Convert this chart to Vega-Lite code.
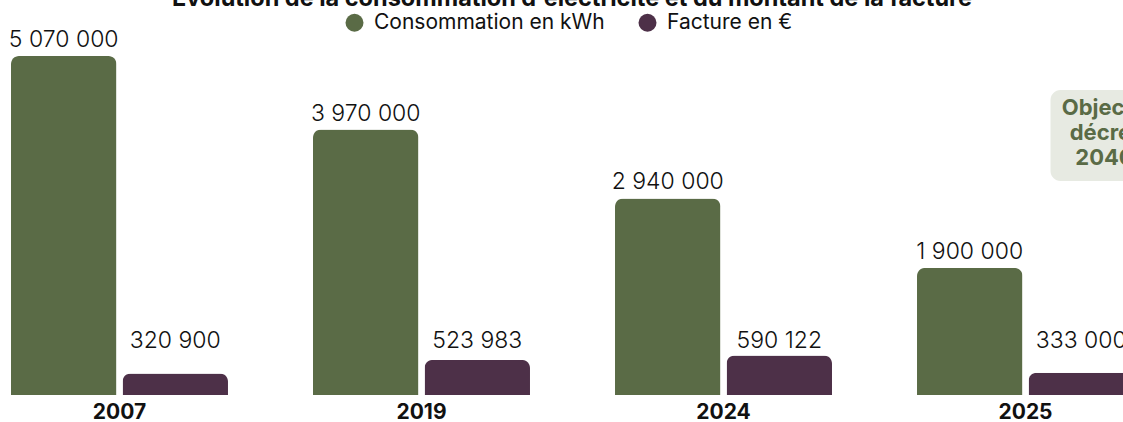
{
  "$schema": "https://vega.github.io/schema/vega-lite/v6.json",
  "autosize": {"type": "none"},
  "width": 1112,
  "height": 339,
  "padding": {"left": 11, "top": 56, "right": 0, "bottom": 27},
  "background": "white",
  "config": {
    "font": "Inter",
    "view": {"stroke": null},
    "locale": {"number": {"decimal": ",", "thousands": " ", "grouping": [3], "currency": ["", " €"]}}
  },
  "title": {
    "text": "Évolution de la consommation d'électricité et du montant de la facture",
    "fontSize": 23.5,
    "fontWeight": "bold",
    "font": "Inter",
    "color": "#111111",
    "anchor": "middle",
    "frame": "group",
    "baseline": "alphabetic",
    "offset": 0,
    "dy": 17,
    "dx": 5
  },
  "data": {
    "values": [
      {"year": "2007", "serie": "Consommation en kWh", "value": 5070000},
      {"year": "2007", "serie": "Facture en €", "value": 320900},
      {"year": "2019", "serie": "Consommation en kWh", "value": 3970000},
      {"year": "2019", "serie": "Facture en €", "value": 523983},
      {"year": "2024", "serie": "Consommation en kWh", "value": 2940000},
      {"year": "2024", "serie": "Facture en €", "value": 590122},
      {"year": "2025", "serie": "Consommation en kWh", "value": 1900000},
      {"year": "2025", "serie": "Facture en €", "value": 333000}
    ]
  },
  "layer": [
    {
      "mark": {"type": "bar", "cornerRadiusTopLeft": 8, "cornerRadiusTopRight": 8},
      "encoding": {
        "x": {
          "field": "year", "type": "nominal", "title": null,
          "scale": {"paddingInner": 0.2815, "paddingOuter": 0, "range": [0, 1123]},
          "axis": {"domain": false, "ticks": false, "labelFontSize": 21, "labelFontWeight": "bold", "labelColor": "#111111", "labelFont": "Inter", "labelPadding": 6, "labelAngle": 0}
        },
        "xOffset": {"field": "serie", "type": "nominal", "sort": ["Consommation en kWh", "Facture en €"], "scale": {"paddingInner": 0.055, "paddingOuter": 0}},
        "y": {"field": "value", "type": "quantitative", "scale": {"domain": [0, 5070000], "nice": false, "zero": true}, "axis": null},
        "color": {
          "field": "serie", "type": "nominal",
          "scale": {"domain": ["Consommation en kWh", "Facture en €"], "range": ["#5a6b46", "#4d3048"]},
          "legend": {
            "orient": "none", "legendX": 333, "legendY": -44, "direction": "horizontal", "title": null,
            "symbolType": "circle", "symbolSize": 324, "symbolStrokeWidth": 0, "symbolOpacity": 1,
            "labelFontSize": 21, "labelFont": "Inter", "labelColor": "#111111", "labelLimit": 400, "columnPadding": 32, "labelOffset": 9, "padding": 0
          }
        }
      }
    },
    {
      "transform": [{"filter": "datum.serie === 'Consommation en kWh'"}],
      "mark": {"type": "text", "fontSize": 23, "font": "Inter", "fontWeight": 300, "color": "#111111", "baseline": "alphabetic", "align": "center", "dy": -9},
      "encoding": {
        "x": {"field": "year", "type": "nominal"},
        "xOffset": {"field": "serie", "type": "nominal"},
        "y": {"field": "value", "type": "quantitative"},
        "text": {"field": "value", "type": "quantitative", "format": ",d"}
      }
    },
    {
      "transform": [
        {"filter": "datum.serie === 'Facture en €'"},
        {"joinaggregate": [{"op": "max", "field": "value", "as": "maxv"}]}
      ],
      "mark": {"type": "text", "fontSize": 23, "font": "Inter", "fontWeight": 300, "color": "#111111", "baseline": "alphabetic", "align": "center", "dy": -8},
      "encoding": {
        "x": {"field": "year", "type": "nominal"},
        "xOffset": {"field": "serie", "type": "nominal"},
        "y": {"field": "maxv", "type": "quantitative"},
        "text": {"field": "value", "type": "quantitative", "format": ",d"}
      }
    },
    {
      "data": {"values": [{}]},
      "mark": {"type": "bar", "color": "#e7eae2", "cornerRadius": 10, "width": 120, "xOffset": 85},
      "encoding": {
        "x": {"datum": "2025"},
        "y": {"datum": 4560000},
        "y2": {"datum": 3200000}
      }
    },
    {
      "data": {"values": [{}]},
      "mark": {"type": "text", "text": ["Objectif", "décret", "2040"], "fontSize": 22, "fontWeight": "bold", "font": "Inter", "color": "#5a6b46", "align": "center", "baseline": "middle", "lineHeight": 25, "dx": 79},
      "encoding": {
        "x": {"datum": "2025"},
        "y": {"datum": 4285000}
      }
    }
  ]
}
